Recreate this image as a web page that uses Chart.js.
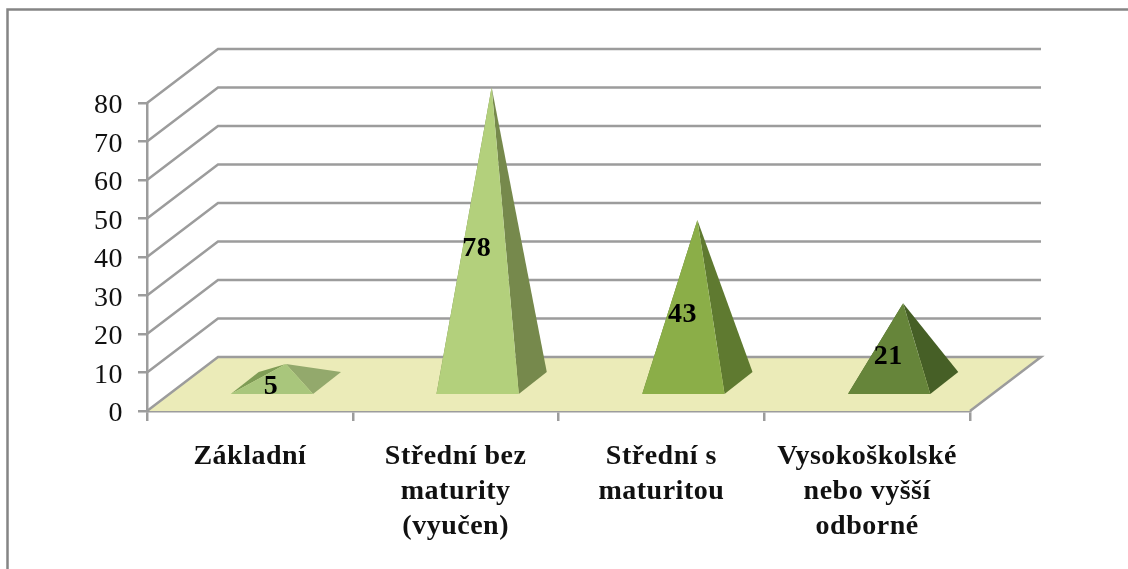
<!DOCTYPE html>
<html>
<head>
<meta charset="utf-8">
<script src="https://cdn.jsdelivr.net/npm/chart.js@4"></script>
<style>
  html, body { margin: 0; background: #fff; }
  canvas { display: block; filter: blur(0.6px); }
</style>
</head>
<body>
<canvas id="chart" width="1128" height="569"></canvas>
<script>
// Données
const categories = [
    'Základní',
    ['Střední bez', 'maturity', '(vyučen)'],
    ['Střední s', 'maturitou'],
    ['Vysokoškolské', 'nebo vyšší', 'odborné']
];
const values = [5, 78, 43, 21];
const axisMin = 0;
const axisMax = 80;
const axisStep = 10;

const frontColors = ['#a9c67c', '#b3d07c', '#8bae48', '#66853a'];
const sideColors = ['#93a96c', '#76894c', '#5f7a30', '#465f26'];
const leftColors = ['#7f9c55', '#76894c', '#5f7a30', '#465f26'];

const GRID = '#9c9c9c';
const DEPTH_X = 71;
const DEPTH_Y = 54;
const SERIF = '"Liberation Serif", serif';

function poly(ctx, pts, fill) {
    ctx.beginPath();
    pts.forEach((p, i) => i ? ctx.lineTo(p[0], p[1]) : ctx.moveTo(p[0], p[1]));
    ctx.closePath();
    ctx.fillStyle = fill;
    ctx.fill();
}

// Cadre, parois et sol en fausse 3D
const wallsPlugin = {
    id: 'walls',
    beforeLayout(chart) {
        // Texte un peu plus large, comme sur l'original
        chart.ctx.letterSpacing = '0.5px';
    },
    beforeDatasetsDraw(chart) {
        const { ctx, scales: { x, y } } = chart;
        const y0 = y.getPixelForValue(axisMin);
        ctx.save();

        ctx.strokeStyle = '#858585';
        ctx.lineWidth = 2.5;
        ctx.beginPath();
        ctx.moveTo(7.5, 569);
        ctx.lineTo(7.5, 9.5);
        ctx.lineTo(1128, 9.5);
        ctx.stroke();

        poly(ctx, [
            [x.left, y0],
            [x.left + DEPTH_X, y0 - DEPTH_Y],
            [x.right + DEPTH_X, y0 - DEPTH_Y],
            [x.right, y0]
        ], '#ebebb8');

        ctx.strokeStyle = GRID;
        ctx.lineWidth = 2.5;
        for (let v = axisMin; v <= axisMax; v += axisStep) {
            const py = y.getPixelForValue(v);
            ctx.beginPath();
            ctx.moveTo(x.left, py);
            ctx.lineTo(x.left + DEPTH_X, py - DEPTH_Y);
            ctx.lineTo(x.right + DEPTH_X, py - DEPTH_Y);
            if (v === axisMin) ctx.lineTo(x.right, py);
            ctx.stroke();
        }
        ctx.restore();
    },
    afterDatasetsDraw(chart) {
        const { ctx, scales: { y } } = chart;
        const y0 = y.getPixelForValue(axisMin);
        const meta = chart.getDatasetMeta(0);
        ctx.save();

        // Pyramides
        meta.data.forEach((bar, i) => {
            const half = bar.width / 2;
            const cx = bar.x + 22;
            const frontY = y0 - 17;
            const backY = y0 - 39;
            const fl = [cx - half, frontY];
            const fr = [cx + half, frontY];
            const bl = [cx - half + 28, backY];
            const br = [cx + half + 28, backY];
            const apexY = (frontY + backY) / 2 - (y0 - bar.y) * 0.985;
            const apex = [cx + 14, apexY];
            poly(ctx, [fl, bl, apex], leftColors[i]);
            poly(ctx, [fr, br, apex], sideColors[i]);
            poly(ctx, [fl, fr, apex], frontColors[i]);
        });

        // Étiquettes de valeurs
        ctx.fillStyle = '#000';
        ctx.font = 'bold 28px ' + SERIF;
        ctx.textAlign = 'center';
        ctx.textBaseline = 'middle';
        meta.data.forEach((bar, i) => {
            const frontY = y0 - 17;
            const apexY = y0 - 28 - (y0 - bar.y) * 0.985;
            ctx.fillText(values[i], bar.x + 21, (frontY + apexY) / 2 + 8);
        });
        ctx.restore();
    }
};

new Chart(document.getElementById('chart'), {
    type: 'bar',
    data: {
        labels: categories,
        datasets: [{
            data: values,
            backgroundColor: 'transparent',
            borderWidth: 0,
            categoryPercentage: 1,
            barPercentage: 0.4
        }]
    },
    options: {
        responsive: false,
        animation: false,
        events: [],
        layout: { padding: { top: 103, right: 158, bottom: 0, left: 0 } },
        plugins: { legend: { display: false }, tooltip: { enabled: false } },
        scales: {
            x: {
                afterFit: scale => { scale.height = 158; },
                border: { color: GRID, width: 2.5 },
                grid: { drawOnChartArea: false, color: GRID, lineWidth: 2.5, tickLength: 10 },
                ticks: {
                    autoSkip: false,
                    maxRotation: 0,
                    padding: 18,
                    color: '#111',
                    font: { family: SERIF, size: 28, weight: 'bold', lineHeight: 1.25 }
                }
            },
            y: {
                min: axisMin,
                max: axisMax,
                afterFit: scale => { scale.width = 147; },
                border: { color: GRID, width: 2.5 },
                grid: { drawOnChartArea: false, color: GRID, lineWidth: 2.5, tickLength: 9 },
                ticks: {
                    stepSize: axisStep,
                    padding: 15,
                    labelOffset: 3,
                    color: '#111',
                    font: { family: SERIF, size: 28 }
                }
            }
        }
    },
    plugins: [wallsPlugin]
});
</script>
</body>
</html>
